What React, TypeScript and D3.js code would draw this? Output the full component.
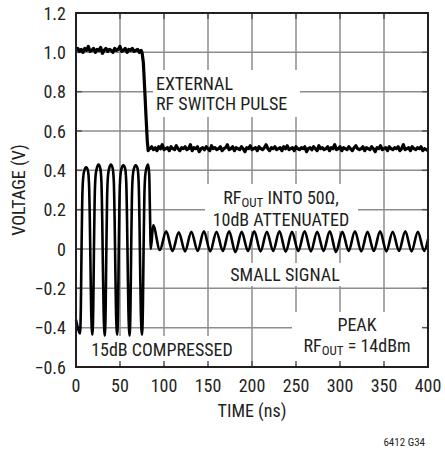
import React from 'react';
import * as d3 from 'd3';

// ---------- data ----------
const xTickValues = [0, 50, 100, 150, 200, 250, 300, 350, 400];
const yTickValues = [-0.6, -0.4, -0.2, 0, 0.2, 0.4, 0.6, 0.8, 1.0, 1.2];
const yTickLabels = ['−0.6', '−0.4', '−0.2', '0', '0.2', '0.4', '0.6', '0.8', '1.0', '1.2'];

// External RF switch pulse: high level (sampled every 2 ns from 0 ns)
const pulseHighStart = 0;
const pulseStep = 2;
const pulseHigh = [
  1.01, 1.02, 1.005, 1.015, 1.0, 1.02, 1.01, 1.03, 1.005, 1.01,
  1.02, 1.0, 1.015, 1.01, 1.025, 0.995, 1.01, 1.02, 1.005, 1.015,
  1.01, 1.0, 1.02, 1.01, 1.015, 1.03, 1.005, 1.01, 1.02, 1.0,
  1.015, 1.01, 1.02, 1.005, 1.01, 1.015, 1.0, 1.01,
];
// falling edge
const pulseFallT = [75, 76.5, 78, 79.5, 81, 82, 83];
const pulseFallV = [1.0, 0.95, 0.82, 0.68, 0.55, 0.5, 0.51];
// low level (sampled every 2 ns from 84 ns)
const pulseLowStart = 84;
const pulseLow = [
  0.51, 0.52, 0.505, 0.515, 0.5, 0.52, 0.51, 0.53, 0.505, 0.51,
  0.515, 0.5, 0.52, 0.51, 0.505, 0.525, 0.51, 0.5, 0.515, 0.51,
  0.52, 0.505, 0.51, 0.53, 0.5, 0.515, 0.51, 0.52, 0.495, 0.51,
  0.515, 0.505, 0.52, 0.51, 0.5, 0.525, 0.51, 0.515, 0.505, 0.51,
  0.52, 0.5, 0.51, 0.515, 0.53, 0.505, 0.51, 0.52, 0.5, 0.515,
  0.51, 0.505, 0.52, 0.51, 0.495, 0.515, 0.51, 0.525, 0.505, 0.51,
  0.515, 0.5, 0.52, 0.51, 0.505, 0.515, 0.53, 0.51, 0.5, 0.515,
  0.51, 0.52, 0.505, 0.51, 0.515, 0.5, 0.52, 0.51, 0.525, 0.505,
  0.51, 0.515, 0.5, 0.52, 0.51, 0.505, 0.515, 0.51, 0.52, 0.495,
  0.51, 0.515, 0.505, 0.52, 0.51, 0.5, 0.525, 0.51, 0.515, 0.505,
  0.51, 0.52, 0.5, 0.515, 0.51, 0.53, 0.505, 0.51, 0.52, 0.5,
  0.515, 0.51, 0.505, 0.52, 0.51, 0.5, 0.515, 0.525, 0.51, 0.505,
  0.51, 0.52, 0.5, 0.515, 0.51, 0.505, 0.52, 0.51, 0.495, 0.515,
  0.51, 0.525, 0.505, 0.51, 0.515, 0.5, 0.52, 0.51, 0.505, 0.515,
  0.51, 0.52, 0.5, 0.51, 0.53, 0.505, 0.51, 0.515, 0.5, 0.52,
  0.51, 0.505, 0.515, 0.51, 0.52, 0.5, 0.51, 0.505, 0.5,
];

// RF output: 15dB compressed burst then small signal
const rfTime = [
  0, 1.5, 3,
  4.5, 5.5, 6.3, 7.1, 8.1, 9.5, 11.5, 13.5, 14.8, 15.7, 16.5, 17.3, 18.0,
  18.6, 19.6, 20.4, 21.2, 22.2, 23.6, 25.6, 27.6, 28.9, 29.8, 30.6, 31.4, 32.1,
  32.7, 33.7, 34.5, 35.3, 36.3, 37.7, 39.7, 41.7, 43.0, 43.9, 44.7, 45.5, 46.2,
  46.8, 47.8, 48.6, 49.4, 50.4, 51.8, 53.8, 55.8, 57.1, 58.0, 58.8, 59.6, 60.3,
  60.9, 61.9, 62.7, 63.5, 64.5, 65.9, 67.9, 69.9, 71.2, 72.1, 72.9, 73.7, 74.4,
  75.0, 76.0, 76.8, 77.6, 78.6, 80.0, 82.0, 83.2, 84.0, 85.0,
  87.7, 95.3, 102.5, 109.6, 116.8, 123.9, 131.1, 138.2, 145.4, 152.5,
  159.7, 166.8, 174.0, 181.1, 188.3, 195.4, 202.6, 209.7, 216.9, 224.0,
  231.2, 238.3, 245.5, 252.6, 259.8, 266.9, 274.1, 281.2, 288.4, 295.5,
  302.7, 309.8, 317.0, 324.1, 331.3, 338.4, 345.6, 352.7, 359.9, 367.0,
  374.2, 381.3, 388.5, 395.6, 400,
];
const rfVolt = [
  -0.36, -0.39, -0.415,
  -0.43, -0.3, 0.0, 0.25, 0.36, 0.4, 0.415, 0.4, 0.33, 0.15, -0.1, -0.32, -0.41,
  -0.435, -0.3, 0.0, 0.25, 0.37, 0.41, 0.43, 0.41, 0.34, 0.15, -0.1, -0.32, -0.41,
  -0.44, -0.3, 0.0, 0.25, 0.37, 0.41, 0.43, 0.41, 0.34, 0.15, -0.1, -0.32, -0.41,
  -0.435, -0.3, 0.0, 0.25, 0.37, 0.41, 0.425, 0.41, 0.34, 0.15, -0.1, -0.32, -0.41,
  -0.44, -0.3, 0.0, 0.25, 0.37, 0.41, 0.425, 0.41, 0.34, 0.15, -0.1, -0.32, -0.41,
  -0.435, -0.3, 0.0, 0.25, 0.37, 0.41, 0.43, 0.38, 0.2, 0.0,
  0.12, -0.005, 0.09, -0.01, 0.085, -0.012, 0.088, -0.01, 0.09, -0.012,
  0.088, -0.01, 0.09, -0.015, 0.087, -0.01, 0.09, -0.012, 0.088, -0.01,
  0.09, -0.014, 0.087, -0.01, 0.09, -0.012, 0.088, -0.01, 0.09, -0.015,
  0.088, -0.01, 0.09, -0.012, 0.087, -0.01, 0.09, -0.012, 0.088, -0.01,
  0.09, -0.012, 0.088, -0.01, 0.05,
];

// ---------- chart ----------
const FONT = "'Liberation Sans Narrow', 'Arial Narrow', 'Roboto Condensed', sans-serif";
const TXT = '#231f20';

export default function App() {
  const W = 445;
  const H = 450;
  const left = 76, right = 428, top = 13, bottom = 367;
  const x = d3.scaleLinear().domain([0, 400]).range([left, right]);
  const y = d3.scaleLinear().domain([-0.6, 1.2]).range([bottom, top]);

  const pulsePts: [number, number][] = [];
  pulseHigh.forEach((v, i) => pulsePts.push([pulseHighStart + i * pulseStep, v]));
  pulseFallT.forEach((t, i) => pulsePts.push([t, pulseFallV[i]]));
  pulseLow.forEach((v, i) => pulsePts.push([pulseLowStart + i * pulseStep, v]));
  const lineLin = d3.line<[number, number]>().x(d => x(d[0])).y(d => y(d[1]));
  const pulsePath = lineLin(pulsePts) || '';

  const rfPts: [number, number][] = rfTime.map((t, i) => [t, rfVolt[i]]);
  const rfLine = d3.line<[number, number]>().x(d => x(d[0])).y(d => y(d[1])).curve(d3.curveMonotoneX);
  const rfPath = rfLine(rfPts) || '';

  const boxes = [
    { x: 153, y: 70, w: 147, h: 47 },
    { x: 205, y: 184, w: 153, h: 47 },
    { x: 222, y: 263, w: 126, h: 23 },
    { x: 292, y: 312, w: 134, h: 53 },
    { x: 78, y: 336, w: 167, h: 29 },
  ];

  const tickLen = 6;

  return (
    <svg width={W} height={H} style={{ position: 'absolute', left: 0, top: 0, background: '#fff' }}
      fontFamily={FONT}>
      <rect x={0} y={0} width={W} height={H} fill="#fff" />
      {/* grid */}
      {xTickValues.slice(1, -1).map(v => (
        <line key={'gx' + v} x1={x(v)} x2={x(v)} y1={top} y2={bottom} stroke="#8c8c8c" strokeWidth={1.5} />
      ))}
      {yTickValues.slice(1, -1).map(v => (
        <line key={'gy' + v} x1={left} x2={right} y1={y(v)} y2={y(v)} stroke="#8c8c8c" strokeWidth={1.5} />
      ))}
      {/* white label boxes */}
      {boxes.map((b, i) => (
        <rect key={'b' + i} x={b.x} y={b.y} width={b.w} height={b.h} fill="#fff" />
      ))}
      {/* ticks */}
      {xTickValues.slice(1, -1).map(v => (
        <g key={'tx' + v}>
          <line x1={x(v)} x2={x(v)} y1={bottom} y2={bottom - tickLen} stroke="#555" strokeWidth={1.5} />
          <line x1={x(v)} x2={x(v)} y1={top} y2={top + tickLen} stroke="#555" strokeWidth={1.5} />
        </g>
      ))}
      {yTickValues.slice(1, -1).map(v => (
        <g key={'ty' + v}>
          <line x1={left} x2={left + tickLen} y1={y(v)} y2={y(v)} stroke="#555" strokeWidth={1.5} />
          <line x1={right} x2={right - tickLen} y1={y(v)} y2={y(v)} stroke="#555" strokeWidth={1.5} />
        </g>
      ))}
      {/* traces */}
      <path d={pulsePath} fill="none" stroke="#000" strokeWidth={3.2} strokeLinejoin="round" />
      <path d={rfPath} fill="none" stroke="#000" strokeWidth={2.6} strokeLinejoin="round" />
      {/* frame */}
      <rect x={left} y={top} width={right - left} height={bottom - top} fill="none" stroke="#231f20" strokeWidth={2} />
      {/* axis labels */}
      {yTickValues.map((v, i) => (
        <text key={'yl' + v} x={66} y={y(v) + 6.5} textAnchor="end" fontSize={18} fill={TXT}>{yTickLabels[i]}</text>
      ))}
      {xTickValues.map(v => (
        <text key={'xl' + v} x={x(v)} y={392} textAnchor="middle" fontSize={18} fill={TXT}>{v}</text>
      ))}
      <text x={(left + right) / 2} y={417} textAnchor="middle" fontSize={18} fill={TXT}>TIME (ns)</text>
      <text transform={`translate(25,${(top + bottom) / 2}) rotate(-90)`} textAnchor="middle" fontSize={18} fill={TXT}>VOLTAGE (V)</text>
      <text x={425} y={446} textAnchor="end" fontSize={11} fill={TXT}>6412 G34</text>
      {/* annotations */}
      <text x={156} y={90} fontSize={18} fill={TXT}>EXTERNAL</text>
      <text x={156} y={110} fontSize={18} fill={TXT}>RF SWITCH PULSE</text>
      <text x={281} y={204} textAnchor="middle" fontSize={18} fill={TXT}>
        <tspan>RF</tspan><tspan fontSize={13} dy={3}>OUT</tspan><tspan dy={-3}> INTO 50Ω,</tspan>
      </text>
      <text x={281} y={226} textAnchor="middle" fontSize={18} fill={TXT}>10dB ATTENUATED</text>
      <text x={285} y={281} textAnchor="middle" fontSize={18} fill={TXT}>SMALL SIGNAL</text>
      <text x={357} y={331} textAnchor="middle" fontSize={18} fill={TXT}>PEAK</text>
      <text x={357} y={352} textAnchor="middle" fontSize={18} fill={TXT}>
        <tspan>RF</tspan><tspan fontSize={13} dy={3}>OUT</tspan><tspan dy={-3}> = 14dBm</tspan>
      </text>
      <text x={162} y={356} textAnchor="middle" fontSize={18} fill={TXT}>15dB COMPRESSED</text>
    </svg>
  );
}
